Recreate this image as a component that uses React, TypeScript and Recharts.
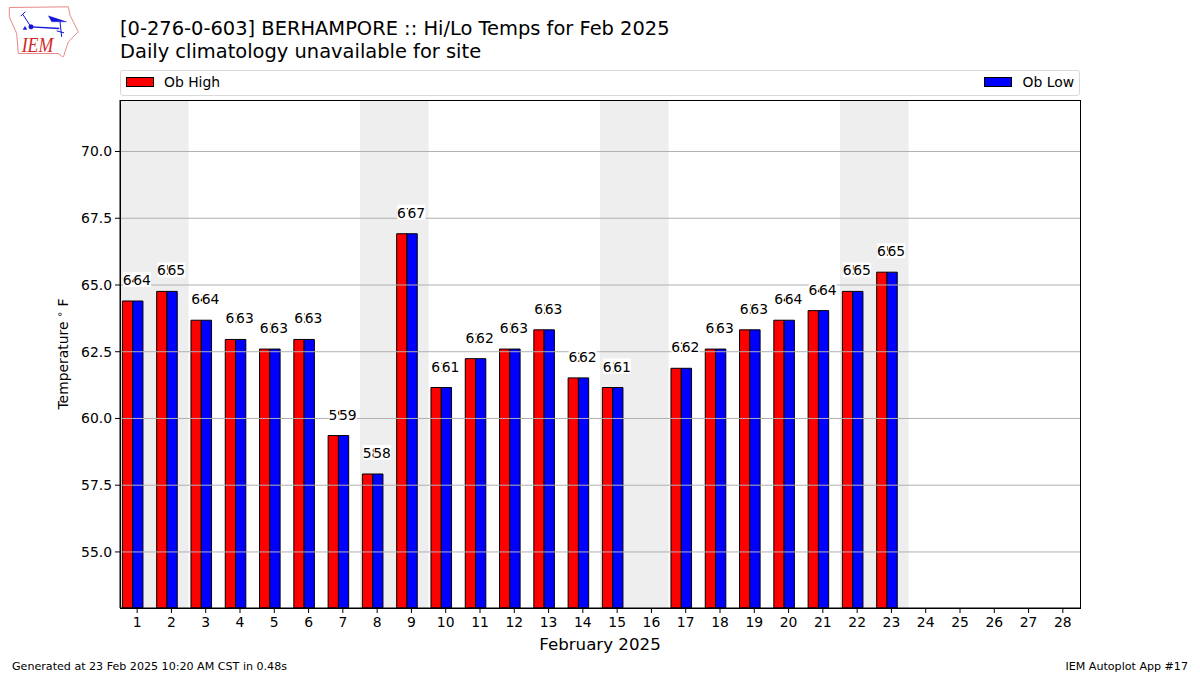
import {
  ComposedChart, Bar, Line, XAxis, YAxis, ReferenceLine,
  ReferenceArea, LabelList, Legend,
} from "recharts";

const FONT = "'DejaVu Sans', sans-serif";

const days = [
  1, 2, 3, 4, 5, 6, 7, 8, 9, 10, 11, 12, 13, 14,
  15, 16, 17, 18, 19, 20, 21, 22, 23, 24, 25, 26, 27, 28,
];
const obHigh = [
  64.4, 64.76, 63.68, 62.96, 62.6, 62.96, 59.36, 57.92, 66.92, 61.16, 62.24, 62.6, 63.32, 61.52,
  61.16, null, 61.88, 62.6, 63.32, 63.68, 64.04, 64.76, 65.48, null, null, null, null, null,
];
const obLow = [
  64.4, 64.76, 63.68, 62.96, 62.6, 62.96, 59.36, 57.92, 66.92, 61.16, 62.24, 62.6, 63.32, 61.52,
  61.16, null, 61.88, 62.6, 63.32, 63.68, 64.04, 64.76, 65.48, null, null, null, null, null,
];
const yTicks = [55, 57.5, 60, 62.5, 65, 67.5, 70];
const weekends = [[1, 2], [8, 9], [15, 16], [22, 23]];

const data = days.map((day, i) => ({ day, high: obHigh[i], low: obLow[i] }));

// white backed value label, matplotlib style
function boxedLabel(shift: number) {
  return function BoxedLabel(props: any) {
    const { x, y, value } = props;
    if (value == null || x == null || y == null) return null;
    const cx = x + shift;
    const cy = y - 21;
    return (
      <g>
        <rect x={cx - 8.5} y={cy - 8} width={17.5} height={15} fill="#fff" />
        <text x={cx} y={cy + 5} textAnchor="middle" fontSize={13.9} fontFamily={FONT} fill="#000">
          {Math.round(value)}
        </text>
      </g>
    );
  };
}

function YLabel(props: any) {
  const cy = props.viewBox.y + props.viewBox.height / 2;
  return (
    <text
      transform={`translate(68 ${cy}) rotate(-90)`}
      textAnchor="middle"
      fontSize={13.9}
      fontFamily={FONT}
      fill="#000"
    >
      Temperature <tspan dy={-5} fontSize={10}>∘</tspan><tspan dy={5}> F</tspan>
    </text>
  );
}

function LegendBox({ payload }: any) {
  const items = (payload || []).filter((p: any) => p.type !== "none");
  return (
    <div
      style={{
        boxSizing: "border-box", width: 960, height: 26, padding: "0 5px 2px",
        border: "1px solid #d9d9d9", borderRadius: 3, background: "#fff",
        display: "flex", justifyContent: "space-between", alignItems: "center",
        fontFamily: FONT, fontSize: 13.9, color: "#000",
      }}
    >
      {items.map((p: any) => (
        <div key={p.value} style={{ display: "flex", alignItems: "center" }}>
          <span
            style={{
              boxSizing: "border-box", width: 28, height: 10, marginRight: 10,
              background: p.color, border: "1px solid #000",
            }}
          />
          {p.value}
        </div>
      ))}
    </div>
  );
}

function Logo() {
  return (
    <svg width={100} height={57} viewBox="0 0 300 170" style={{ position: "absolute", left: 0, top: 0 }}>
      <path
        d="M28 22 L205 20 L210 45 L235 95 L205 125 L195 155 L190 172 L175 160 L55 160 L50 100 L28 50 Z"
        fill="#fff" stroke="#e58a8a" strokeWidth={3}
      />
      <g stroke="#1414d8" fill="#1414d8">
        <circle cx={93} cy={80} r={7} />
        <path d="M93 80 L178 85" strokeWidth={4} />
        <path d="M93 80 L68 42 M68 42 L62 48 M68 42 L76 35" strokeWidth={3} fill="none" />
        <path d="M145 47 L170 55 L200 65 L155 65 Z" />
        <path d="M180 65 L185 110 M170 92 L192 98" strokeWidth={3} fill="none" />
        <path d="M69 88 L75 78 L81 88 Z" />
      </g>
      <text
        x={65}
        y={155}
        fontFamily="'Liberation Serif', serif"
        fontStyle="italic"
        fontSize={66}
        textLength={95}
        lengthAdjust="spacingAndGlyphs"
        fill="#d02828"
      >
        IEM
      </text>
    </svg>
  );
}

export default function App() {
  return (
    <div style={{ position: "absolute", left: 0, top: 0, width: 1200, height: 675, background: "#fff", fontFamily: FONT }}>
      <Logo />
      <div style={{ position: "absolute", left: 120, top: 17, fontSize: 19.44, lineHeight: "23px", color: "#000", whiteSpace: "pre" }}>
        {"[0-276-0-603] BERHAMPORE :: Hi/Lo Temps for Feb 2025\nDaily climatology unavailable for site"}
      </div>

      <ComposedChart
        width={1200}
        height={675}
        data={data}
        barSize={10.28}
        barGap={0}
        margin={{ top: 100, right: 120, bottom: 0, left: 0 }}
      >
        <XAxis
          xAxisId="main"
          dataKey="day"
          interval={0}
          height={67}
          tickSize={5}
          tickMargin={4}
          tick={{ fontSize: 13.9, fill: "#000", fontFamily: FONT }}
          stroke="#000"
          label={{ value: "February 2025", position: "insideBottom", offset: 25, fontSize: 16.67, fill: "#000", fontFamily: FONT }}
        />
        {/* bars sit left of the tick in the original, so they get their own shifted axis */}
        <XAxis xAxisId="bars" dataKey="day" hide height={0} padding={{ left: -4.6, right: 4.6 }} />
        <YAxis
          width={120}
          domain={[52.9, 71.93]}
          ticks={yTicks}
          allowDataOverflow
          tickFormatter={(v: number) => v.toFixed(1)}
          tickSize={5}
          tickMargin={3}
          tick={{ fontSize: 13.9, fill: "#000", fontFamily: FONT }}
          stroke="#000"
          label={<YLabel />}
        />
        {weekends.map(([a, b]) => (
          <ReferenceArea key={a} xAxisId="main" x1={a} x2={b} fill="#eeeeee" fillOpacity={1} stroke="none" />
        ))}
        <Bar xAxisId="bars" dataKey="high" name="Ob High" fill="#ff0000" stroke="#000" strokeWidth={1} isAnimationActive={false} />
        <Bar xAxisId="bars" dataKey="low" name="Ob Low" fill="#0000ff" stroke="#000" strokeWidth={1} isAnimationActive={false} />
        {/* gridlines run over the bars in the original */}
        {yTicks.map((t) => (
          <ReferenceLine key={t} xAxisId="main" y={t} stroke="#b0b0b0" strokeWidth={1} zIndex={350} />
        ))}
        <Line xAxisId="main" dataKey="high" stroke="none" dot={false} legendType="none" isAnimationActive={false}>
          <LabelList dataKey="high" content={boxedLabel(-5.6)} />
        </Line>
        <Line xAxisId="main" dataKey="low" stroke="none" dot={false} legendType="none" isAnimationActive={false}>
          <LabelList dataKey="low" content={boxedLabel(4.9)} />
        </Line>
        <Legend
          layout="horizontal"
          verticalAlign="middle"
          align="center"
          content={<LegendBox />}
          wrapperStyle={{ position: "absolute", left: 120, top: 70, width: 960, height: 26 }}
        />
      </ComposedChart>

      {/* axes frame */}
      <div style={{ position: "absolute", left: 120, top: 100, width: 961, height: 509, boxSizing: "border-box", border: "1px solid #000", pointerEvents: "none" }} />

      <div style={{ position: "absolute", left: 12, top: 660, fontSize: 11.1, color: "#000" }}>
        Generated at 23 Feb 2025 10:20 AM CST in 0.48s
      </div>
      <div style={{ position: "absolute", right: 12, top: 660, fontSize: 11.1, color: "#000" }}>
        IEM Autoplot App #17
      </div>
    </div>
  );
}
